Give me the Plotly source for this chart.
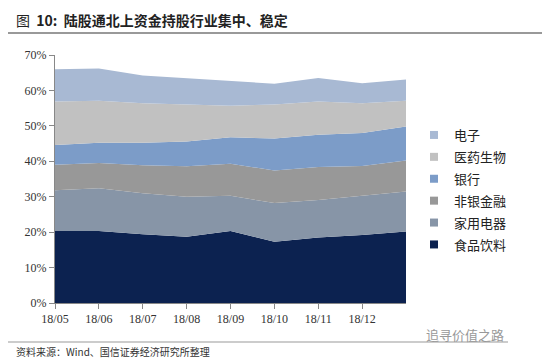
import plotly.graph_objects as go

months = ["18/05", "18/06", "18/07", "18/08", "18/09", "18/10", "18/11", "18/12", "19/01"]
tick_labels = ["18/05", "18/06", "18/07", "18/08", "18/09", "18/10", "18/11", "18/12"]

# shares (%) of north-bound holdings, bottom to top of the stack
food = [20.3, 20.3, 19.4, 18.7, 20.3, 17.3, 18.5, 19.2, 20.2]
appliance = [11.5, 12.1, 11.6, 11.3, 10.0, 10.9, 10.6, 11.0, 11.3]
nonbank = [7.2, 7.1, 7.9, 8.6, 9.0, 9.2, 9.3, 8.5, 8.7]
bank = [5.6, 5.7, 6.3, 7.0, 7.5, 9.0, 9.1, 9.3, 9.6]
pharma = [12.3, 11.9, 11.2, 10.5, 8.9, 9.6, 9.4, 8.4, 7.3]
electronics = [9.1, 9.1, 7.8, 7.4, 6.9, 5.9, 6.6, 5.6, 6.0]

names = ["食品饮料", "家用电器", "非银金融", "银行", "医药生物", "电子"]
series = [food, appliance, nonbank, bank, pharma, electronics]
colors = ["#0C2250", "#8795A7", "#989898", "#7C9CC8", "#C1C1C1", "#A8B9D3"]

xs = list(range(len(months)))

fig = go.Figure()
for name, vals, col in zip(names, series, colors):
    fig.add_trace(go.Scatter(
        x=xs, y=[v / 100 for v in vals], name=name, stackgroup="one",
        mode="lines", line=dict(width=0, color=col), fillcolor=col,
        showlegend=False, hoverinfo="skip"))

# legend entries, top item first (电子 ... 食品饮料)
for i, (name, col) in enumerate(zip(names[::-1], colors[::-1])):
    fig.add_trace(go.Scatter(
        x=[None], y=[None], name=name, mode="markers",
        marker=dict(symbol="square", size=8, color=col),
        legendgroup=f"g{i}", showlegend=True))

OFF = 8  # page body margin offset
W, H = 550 - OFF, 358 - OFF
L, R, T, B = 55 - OFF, 406 - OFF, 55 - OFF, 303 - OFF


def px_x(p):
    return (p - OFF - L) / (R - L)


def px_y(p):
    return (B - (p - OFF)) / (B - T)


fig.update_layout(
    width=W, height=H,
    margin=dict(l=L, r=W - R, t=T, b=H - B),
    paper_bgcolor="white", plot_bgcolor="white",
    font=dict(family="Liberation Serif", size=12, color="#333333"),
    xaxis=dict(range=[0, len(months) - 1], tickvals=list(range(len(tick_labels))),
               ticktext=tick_labels, showgrid=False, zeroline=False,
               showline=True, linecolor="#888888", linewidth=1,
               ticks="outside", ticklen=5, tickcolor="#888888",
               tickfont=dict(family="Liberation Serif", size=12, color="#333333")),
    yaxis=dict(range=[0, 0.7], tickvals=[i / 10 for i in range(8)],
               tickformat=".0%", showgrid=False, zeroline=False,
               showline=True, linecolor="#888888", linewidth=1,
               ticks="outside", ticklen=5, tickcolor="#888888",
               tickfont=dict(family="Liberation Serif", size=12, color="#333333")),
    legend=dict(x=px_x(414), y=px_y(120), xanchor="left", yanchor="top",
                traceorder="grouped", tracegroupgap=2,
                font=dict(family="Noto Sans CJK SC", size=13, color="#222222"),
                bgcolor="rgba(0,0,0,0)"),
    shapes=[
        dict(type="line", xref="paper", yref="paper", x0=px_x(4), x1=px_x(546),
             y0=px_y(6), y1=px_y(6), line=dict(color="#999999", width=2)),
        dict(type="line", xref="paper", yref="paper", x0=px_x(4), x1=px_x(546),
             y0=px_y(33), y1=px_y(33), line=dict(color="#999999", width=2)),
        dict(type="line", xref="paper", yref="paper", x0=px_x(4), x1=px_x(508),
             y0=px_y(342), y1=px_y(342), line=dict(color="#999999", width=1)),
    ],
    annotations=[
        dict(text="图  <b>10:</b>  <b>陆股通北上资金持股行业集中、稳定</b>",
             xref="paper", yref="paper", x=px_x(14), y=px_y(20),
             xanchor="left", yanchor="middle", showarrow=False,
             font=dict(family="Noto Sans CJK SC", size=14, color="#222222")),
        dict(text="资料来源：Wind、国信证券经济研究所整理",
             xref="paper", yref="paper", x=px_x(14), y=px_y(351),
             xanchor="left", yanchor="middle", showarrow=False,
             font=dict(family="Noto Sans CJK SC", size=10, color="#333333")),
        dict(text="追寻价值之路",
             xref="paper", yref="paper", x=px_x(506), y=px_y(334),
             xanchor="right", yanchor="middle", showarrow=False,
             font=dict(family="Noto Sans CJK SC", size=13, color="#999999")),
    ],
)

fig.write_html("out.html")
